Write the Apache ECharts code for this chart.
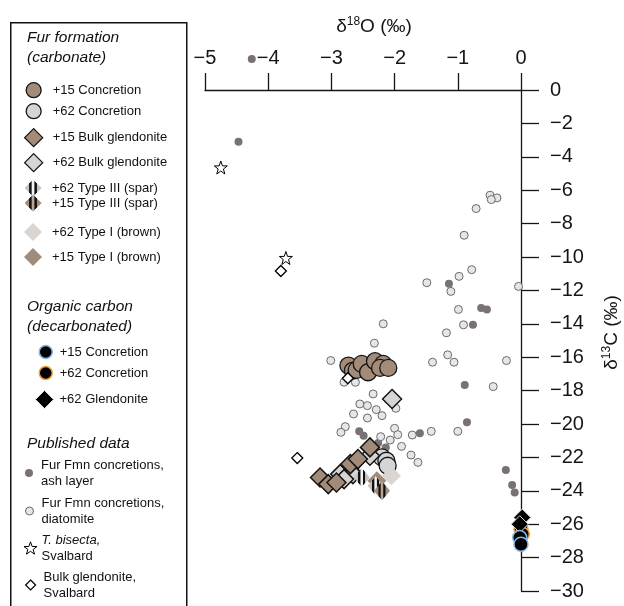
<!DOCTYPE html>
<html><head><meta charset="utf-8">
<script src="https://cdn.jsdelivr.net/npm/echarts@6/dist/echarts.min.js"></script>
<style>html,body{margin:0;padding:0;background:#fff}#c{width:624px;height:606px}</style>
</head><body><div id="c"></div>
<script>
// ---- tick values / labels ----
const xTicks = [-5, -4, -3, -2, -1, 0];
const yTicks = [0, -2, -4, -6, -8, -10, -12, -14, -16, -18, -20, -22, -24, -26, -28, -30];

// ---- data: [d18O, d13C] ----
const ashLayer = [[-4.26, 1.86], [-4.47, -3.1], [-1.14, -11.6], [-0.63, -13.06], [-0.54, -13.14], [-0.76, -14.06],
  [-0.89, -17.66], [-0.855, -19.9], [-1.6, -20.55], [-0.24, -22.76], [-0.14, -23.66], [-0.10, -24.1],
  [-2.56, -20.44], [-2.49, -20.7], [-2.26, -21.14], [-2.14, -21.4]];
const diatomite = [[-0.49, -6.3], [-0.38, -6.46], [-0.47, -6.56], [-0.71, -7.1], [-0.9, -8.7], [-0.78, -10.76],
  [-0.98, -11.16], [-1.49, -11.54], [-1.11, -12.06], [-0.04, -11.76], [-0.99, -13.14], [-0.91, -14.06],
  [-1.18, -14.54], [-1.16, -15.86], [-1.06, -16.3], [-1.4, -16.3], [-0.23, -16.2], [-0.44, -17.76],
  [-2.18, -14.0], [-2.32, -15.16], [-3.01, -16.2], [-2.8, -17.5], [-2.62, -17.5], [-2.34, -18.2],
  [-2.55, -18.8], [-2.43, -18.9], [-2.29, -19.14], [-2.2, -19.5], [-1.98, -19.06], [-2.65, -19.4],
  [-2.43, -19.64], [-2.78, -20.16], [-2.85, -20.5], [-2.0, -20.26], [-1.95, -20.64], [-2.22, -20.76],
  [-2.07, -20.96], [-1.89, -21.34], [-1.72, -20.66], [-1.42, -20.44], [-1.0, -20.44], [-1.74, -21.86],
  [-1.63, -22.3]];
const tBisecta = [[-4.75, -4.64], [-3.72, -10.06]];
const svalbardGlendonite = [[-3.8, -10.84], [-2.74, -17.26], [-3.54, -22.04]];
const concretion15 = [[-2.73, -16.5], [-2.66, -16.8], [-2.6, -16.76], [-2.52, -16.4], [-2.42, -16.9],
  [-2.31, -16.24], [-2.18, -16.4], [-2.23, -16.64], [-2.1, -16.64]];
const concretion62 = [[-2.2, -22.0], [-2.13, -22.2], [-2.11, -22.5]];
const bulk15 = [[-3.18, -23.2], [-3.05, -23.6], [-2.92, -23.5], [-2.7, -22.4], [-2.58, -22.1], [-2.39, -21.4]];
const bulk62 = [[-2.04, -18.5], [-2.39, -21.9], [-2.72, -22.7], [-2.86, -23.0], [-2.66, -23.0], [-2.8, -23.3]];
const spar62 = [[-2.52, -23.2], [-2.3, -23.7]];
const spar15 = [[-2.2, -24.0]];
const typeI62 = [[-2.05, -23.1]];
const typeI15 = [[-2.28, -23.4]];
const orgConc15 = [[-0.02, -26.8], [0.0, -27.2]];
const orgConc62 = [[0.0, -26.3], [0.02, -26.6]];
const orgGlend62 = [[0.02, -25.6], [-0.02, -26.0]];

// ---- styling ----
const FONT = 'Liberation Sans, Arial, Helvetica, sans-serif';
const BROWN = '#a28b79', GREY = '#d5d5d5', INK = '#151515';
const STAR = 'path://M12,0 L14.9,8.1 L23.4,8.2 L16.6,13.3 L19.1,21.5 L12,16.6 L4.9,21.5 L7.4,13.3 L0.6,8.2 L9.1,8.1 Z';

function sparIcon(edge, center) {
  const s = 64, c = document.createElement('canvas'); c.width = c.height = s;
  const g = c.getContext('2d');
  g.beginPath(); g.moveTo(s / 2, 0); g.lineTo(s, s / 2); g.lineTo(s / 2, s); g.lineTo(0, s / 2); g.closePath(); g.clip();
  [[0, 0.28, edge], [0.28, 0.42, '#111'], [0.42, 0.58, center], [0.58, 0.72, '#111'], [0.72, 1, edge]]
    .forEach(([a, b, col]) => { g.fillStyle = col; g.fillRect(a * s, 0, (b - a) * s + 1, s); });
  return 'image://' + c.toDataURL();
}

const labels = {
  c15: '+15 Concretion', c62: '+62 Concretion', b15: '+15 Bulk glendonite', b62: '+62 Bulk glendonite',
  s62: '+62 Type III (spar)', s15: '+15 Type III (spar)', t62: '+62 Type I (brown)', t15: '+15 Type I (brown)',
  o15: '+15 Concretion', o62: '+62 Concretion', og: '+62 Glendonite',
  ash: 'Fur Fmn concretions,\nash layer', dia: 'Fur Fmn concretions,\ndiatomite',
  star: '{i|T. bisecta,}\nSvalbard', sv: 'Bulk glendonite,\nSvalbard'
};

function S(name, data, symbol, size, style) {
  return { type: 'scatter', name, data, symbol, symbolSize: size, clip: false,
    itemStyle: Object.assign({ opacity: 1 }, style), emphasis: { disabled: true } };
}

const series = [
  S('ash', ashLayer, 'circle', 8, { color: '#7a7272' }),
  S('dia', diatomite, 'circle', 8, { color: '#e6e6e6', borderColor: '#6b6b6b', borderWidth: 1 }),
  S('star', tBisecta, STAR, 13, { color: '#fff', borderColor: '#000', borderWidth: 1 }),
  S('c15', concretion15, 'circle', 17, { color: BROWN, borderColor: INK, borderWidth: 1.3 }),
  S('c62', concretion62, 'circle', 17, { color: GREY, borderColor: INK, borderWidth: 1.3 }),
  S('b62', bulk62, 'diamond', 19, { color: GREY, borderColor: INK, borderWidth: 1.5 }),
  S('b15', bulk15, 'diamond', 19, { color: BROWN, borderColor: INK, borderWidth: 1.5 }),
  S('t62', typeI62, 'diamond', 19, { color: '#d8d5d2' }),
  S('t15', typeI15, 'diamond', 19, { color: BROWN }),
  S('s62', spar62, sparIcon('#c4c4c4', '#f2f2f2'), [16, 19], {}),
  S('s15', spar15, sparIcon(BROWN, '#b9a595'), [16, 19], {}),
  S('sv', svalbardGlendonite, 'diamond', 11, { color: '#fff', borderColor: '#000', borderWidth: 1.3 }),
  S('o62', orgConc62, 'circle', 14, { color: '#000', borderColor: '#f0a040', borderWidth: 1.5 }),
  S('og', orgGlend62, 'diamond', 17, { color: '#000', borderColor: '#d8d8d8', borderWidth: 1 }),
  S('o15', orgConc15, 'circle', 14, { color: '#000', borderColor: '#86b6e6', borderWidth: 1.5 })
];

// legend layout: [name, iconCenterX, centerY, iconSize, textLeftX, borderWidth, lines]
const legendLayout = [
  ['c15', 33, 90, 15, 52, 1.3, 1], ['c62', 33, 111, 15, 52, 1.3, 1],
  ['b15', 33, 137, 18, 52, 1.3, 1], ['b62', 33, 162, 18, 52, 1.3, 1],
  ['s62', 33, 188, 17, 52, 0, 1], ['s15', 33, 203, 17, 52, 0, 1],
  ['t62', 33, 232, 18, 52, 0, 1], ['t15', 33, 257, 18, 52, 0, 1],
  ['o15', 45, 352, 13, 59, 1.5, 1], ['o62', 45, 373, 13, 59, 1.5, 1], ['og', 44, 399, 18, 59, 1, 1],
  ['ash', 29, 473, 8, 41, 0, 2], ['dia', 29, 511, 8, 41, 1, 2],
  ['star', 30, 548, 13, 41, 1, 2], ['sv', 30, 585, 10, 43, 1.2, 2]
];
const LH = 16;
const legends = legendLayout.map(([name, cx, cy, sz, tx, bw, lines]) => {
  const boxH = Math.max(sz, LH * lines);
  const left = cx - sz / 2;
  const pad = tx - (left + sz + 5);
  return {
    show: true, orient: 'vertical', left, top: cy - boxH / 2, padding: 0,
    itemWidth: sz, itemHeight: sz, itemGap: 0, selectedMode: false,
    data: [{ name }], formatter: n => labels[n],
    itemStyle: { borderWidth: bw },
    textStyle: { fontSize: 13, fontFamily: FONT, color: '#111', lineHeight: LH, padding: [0, 0, 0, pad],
      rich: { i: { fontSize: 13, fontStyle: 'italic', fontFamily: FONT, color: '#111', lineHeight: LH } } }
  };
});

const tickLabel = v => (v < 0 ? '\u2212' + Math.abs(v) : String(v));

const option = {
  animation: false,
  backgroundColor: '#fff',
  grid: { left: 205, right: 103, top: 90, bottom: 15, containLabel: false, outerBoundsMode: 'none' },
  xAxis: {
    type: 'value', position: 'top', min: xTicks[0], max: xTicks[xTicks.length - 1], interval: 1,
    axisLine: { show: true, onZero: false, lineStyle: { color: INK, width: 1.3 } },
    axisTick: { show: true, inside: false, length: 17, lineStyle: { color: INK, width: 1.3 } },
    axisLabel: { fontSize: 20, color: INK, margin: 22, fontFamily: FONT, showMinLabel: true, showMaxLabel: true,
      formatter: v => tickLabel(xTicks.find(t => t === v)) },
    splitLine: { show: false },
    name: '{a|\u03b4}{s|18}{a|O (\u2030)}', nameLocation: 'middle', nameGap: 52,
    nameTextStyle: { padding: [0, 0, 0, 22], rich: {
      a: { fontSize: 19, fontFamily: FONT, color: INK, lineHeight: 22 },
      s: { fontSize: 12, fontFamily: FONT, color: INK, lineHeight: 22, verticalAlign: 'top' } } }
  },
  yAxis: {
    type: 'value', position: 'right', min: yTicks[yTicks.length - 1], max: yTicks[0], interval: 2,
    axisLine: { show: true, onZero: false, lineStyle: { color: INK, width: 1.3 } },
    axisTick: { show: true, inside: false, length: 18, lineStyle: { color: INK, width: 1.3 } },
    axisLabel: { fontSize: 20, color: INK, margin: 29, fontFamily: FONT, showMinLabel: true, showMaxLabel: true,
      formatter: v => tickLabel(yTicks.find(t => t === v)) },
    splitLine: { show: false },
    name: '{a|\u03b4}{s|13}{a|C (\u2030)}', nameLocation: 'middle', nameGap: 80,
    nameTextStyle: { padding: [0, 0, 0, 16], rich: {
      a: { fontSize: 19, fontFamily: FONT, color: INK, lineHeight: 22 },
      s: { fontSize: 12, fontFamily: FONT, color: INK, lineHeight: 22, verticalAlign: 'top' } } }
  },
  legend: legends,
  graphic: [
    { type: 'rect', left: 10, top: 22, shape: { width: 176, height: 620 }, z: -1,
      style: { fill: '#fff', stroke: '#111', lineWidth: 1.5 } },
    { type: 'text', left: 27, top: 28, style: { text: 'Fur formation\n(carbonate)', font: 'italic 15.5px ' + FONT, lineHeight: 20, fill: '#111' } },
    { type: 'text', left: 27, top: 297, style: { text: 'Organic carbon\n(decarbonated)', font: 'italic 15.5px ' + FONT, lineHeight: 20, fill: '#111' } },
    { type: 'text', left: 27, top: 434, style: { text: 'Published data', font: 'italic 15.5px ' + FONT, lineHeight: 20, fill: '#111' } }
  ],
  series
};

const chart = echarts.init(document.getElementById('c'), null, { renderer: 'canvas' });
chart.setOption(option);
</script>
</body></html>
